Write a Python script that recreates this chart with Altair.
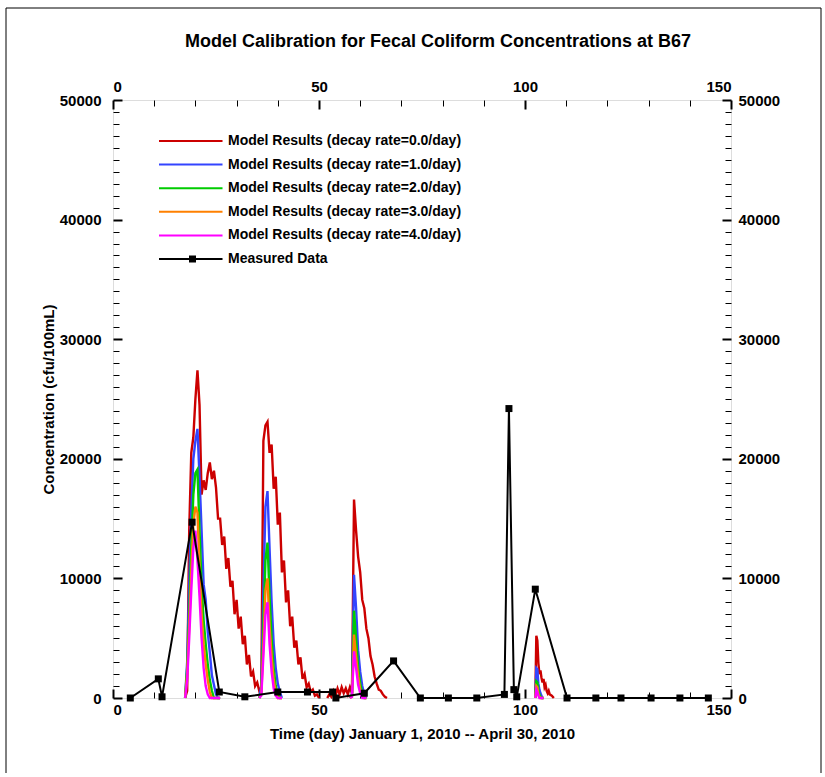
import altair as alt
import pandas as pd

# ---------------- text ----------------
TITLE = "Model Calibration for Fecal Coliform Concentrations at B67"
X_TITLE = "Time (day) January 1, 2010 -- April 30, 2010"
Y_TITLE = "Concentration (cfu/100mL)"

SERIES = [
    "Model Results (decay rate=0.0/day)",
    "Model Results (decay rate=1.0/day)",
    "Model Results (decay rate=2.0/day)",
    "Model Results (decay rate=3.0/day)",
    "Model Results (decay rate=4.0/day)",
    "Measured Data",
]
COLORS = ["#cc0000", "#3344ff", "#00cc00", "#ff8000", "#ff00ff", "#000000"]

X_LABELS = [0, 50, 100, 150]
X_MINOR = [10, 20, 30, 40, 60, 70, 80, 90, 110, 120, 130, 140]
Y_LABELS = [0, 10000, 20000, 30000, 40000, 50000]
Y_MINOR = [v for v in range(0, 50001, 1000) if v % 10000 != 0]

# ---------------- model results: decay 0.0/day (day, value) ----------------
RED_A = [
    (17.5, 0), (18.0, 600), (18.5, 14000), (19.0, 20500), (19.5, 21800),
    (20.0, 25000), (20.5, 27400), (21.0, 24500), (21.5, 17000), (22.0, 18200),
    (22.5, 17400), (23.0, 18800), (23.5, 19700), (24.0, 18300), (24.5, 19000),
    (25.0, 17600), (25.5, 15000), (26.0, 15000), (26.5, 12800), (27.0, 13500),
    (27.5, 10800), (28.0, 11700), (28.5, 9300), (29.0, 9800), (29.5, 7000),
    (30.0, 8200), (30.5, 5800), (31.0, 6800), (31.5, 4500), (32.0, 5200),
    (32.5, 2800), (33.0, 3600), (33.5, 1800), (34.0, 2200), (34.5, 1000),
    (35.0, 1300), (35.5, 600), (36.0, 900), (36.5, 21500), (37.0, 22800),
    (37.5, 23100), (38.0, 20500), (38.5, 21200), (39.0, 17500), (39.5, 18500),
    (40.0, 14500), (40.5, 15500), (41.0, 10500), (41.5, 11500), (42.0, 8000),
    (42.5, 9000), (43.0, 6000), (43.5, 6800), (44.0, 4200), (44.5, 4800),
    (45.0, 2800), (45.5, 3400), (46.0, 1600), (46.5, 2000), (47.0, 900),
    (47.5, 1200), (48.0, 500), (48.5, 700), (49.0, 200), (49.5, 300), (50.0, 0),
]
RED_B = [
    (52.0, 0), (52.5, 300), (53.0, 100), (53.5, 600), (54.0, 200), (54.5, 800),
    (55.0, 300), (55.5, 900), (56.0, 400), (56.5, 800), (57.0, 300), (57.5, 900),
    (58.0, 400), (58.5, 16600), (59.0, 14000), (59.5, 11800), (60.0, 10500),
    (60.5, 8200), (61.0, 7500), (61.5, 5800), (62.0, 5000), (62.5, 3500),
    (63.0, 2800), (63.5, 1800), (64.0, 1200), (64.5, 700), (65.0, 600),
    (65.5, 300), (66.0, 100), (66.5, 0),
]
RED_C = [
    (102.5, 0), (102.75, 5200), (103.0, 4800), (103.25, 2900), (103.5, 2000),
    (103.75, 2300), (104.0, 1700), (104.25, 1300), (104.5, 1600), (104.75, 900),
    (105.0, 1100), (105.25, 600), (105.5, 400), (105.75, 600), (106.0, 300),
    (106.5, 200), (107.0, 0),
]

# ---------------- other decay rates, on shared day grids ----------------
D1 = [17.5, 18.0, 18.5, 19.0, 19.5, 20.0, 20.5, 21.0, 21.5, 22.0, 22.5, 23.0,
      23.5, 24.0, 24.5, 25.0, 25.5, 26.0]
D2 = [35.5, 36.0, 36.5, 37.0, 37.5, 38.0, 38.5, 39.0, 39.5, 40.0, 40.5, 41.0]
D3 = [57.5, 58.0, 58.5, 59.0, 59.5, 60.0, 60.5, 61.0, 61.5]
D4 = [102.5, 102.75, 103.0, 103.25, 103.5, 103.75, 104.0, 104.25, 104.5]

BLUE_1 = [0, 3000, 9500, 15500, 20000, 21500, 22500, 18500, 14000, 9500, 8200, 5500, 3800, 1900, 1100, 300, 0, 0]
GREEN_1 = [0, 2500, 7000, 12500, 17000, 18800, 19100, 14000, 9500, 6500, 4500, 2800, 1500, 600, 0, 0, 0, 0]
ORANGE_1 = [0, 2000, 6000, 10500, 14500, 16000, 15500, 11000, 7000, 4500, 2800, 1500, 500, 0, 0, 0, 0, 0]
MAGENTA_1 = [0, 1500, 5000, 9000, 12500, 14000, 11500, 8500, 5000, 2500, 1000, 300, 0, 0, 0, 0, 0, 0]

BLUE_2 = [0, 1000, 9000, 16000, 17300, 12500, 8000, 4500, 2500, 1200, 500, 0]
GREEN_2 = [0, 500, 6000, 11500, 13000, 8500, 5000, 2500, 1000, 300, 0, 0]
ORANGE_2 = [0, 300, 4500, 9000, 10000, 6000, 3500, 1500, 500, 0, 0, 0]
MAGENTA_2 = [0, 200, 3500, 7000, 8000, 4500, 2200, 800, 200, 0, 0, 0]

BLUE_3 = [0, 300, 10300, 7500, 4000, 2200, 1000, 300, 0]
GREEN_3 = [0, 200, 7300, 5000, 2500, 1200, 400, 0, 0]
ORANGE_3 = [0, 100, 5300, 3500, 1800, 700, 100, 0, 0]
MAGENTA_3 = [0, 100, 3900, 2500, 1100, 400, 0, 0, 0]

BLUE_4 = [0, 2500, 2400, 1200, 700, 400, 200, 0, 0]
GREEN_4 = [0, 1400, 1300, 600, 300, 100, 0, 0, 0]
ORANGE_4 = [0, 1000, 900, 300, 100, 0, 0, 0, 0]
MAGENTA_4 = [0, 700, 500, 200, 0, 0, 0, 0, 0]

# ---------------- measured data ----------------
MEAS_DAY = [4.2, 11.0, 11.9, 19.2, 25.8, 32.0, 40.0, 47.2, 53.3, 54.1, 61.0, 68.1,
            74.6, 81.4, 88.3, 95.0, 96.1, 97.3, 98.0, 102.5, 110.2, 117.2, 123.3,
            130.6, 137.6, 144.5]
MEAS_VAL = [0, 1600, 100, 14700, 500, 100, 500, 500, 500, 0, 400, 3100,
            0, 0, 0, 300, 24200, 700, 100, 9100, 0, 0, 0,
            0, 0, 0]

# ---------------- build tables ----------------
MODEL = {
    SERIES[0]: [RED_A, RED_B, RED_C],
    SERIES[1]: [list(zip(D1, BLUE_1)), list(zip(D2, BLUE_2)), list(zip(D3, BLUE_3)), list(zip(D4, BLUE_4))],
    SERIES[2]: [list(zip(D1, GREEN_1)), list(zip(D2, GREEN_2)), list(zip(D3, GREEN_3)), list(zip(D4, GREEN_4))],
    SERIES[3]: [list(zip(D1, ORANGE_1)), list(zip(D2, ORANGE_2)), list(zip(D3, ORANGE_3)), list(zip(D4, ORANGE_4))],
    SERIES[4]: [list(zip(D1, MAGENTA_1)), list(zip(D2, MAGENTA_2)), list(zip(D3, MAGENTA_3)), list(zip(D4, MAGENTA_4))],
}
rows = []
for name, segs in MODEL.items():
    for k, seg in enumerate(segs):
        for d, v in seg:
            rows.append({"series": name, "seg": k, "day": d, "value": v})
model_df = pd.DataFrame(rows)
meas_df = pd.DataFrame({"day": MEAS_DAY, "value": MEAS_VAL,
                        "series": SERIES[5], "mlabel": "Measured Data", "seg": 0})

# ---------------- layout / style ----------------
W, H = 618, 598
FONT = "Liberation Sans"
LAB = dict(labelFont=FONT, labelFontSize=15, labelFontWeight="bold", labelColor="black")
TIT = dict(titleFont=FONT, titleFontSize=15, titleFontWeight="bold", titleColor="black")

xs = alt.Scale(domain=[0, 150], nice=False, zero=False)
ys = alt.Scale(domain=[0, 50000], nice=False)


def lab_axis(orient, values, pad, title=None, tpad=0):
    kw = dict(orient=orient, values=values, ticks=False, tickSize=0, domain=False,
              grid=False, labelPadding=pad, format="d", **LAB)
    if title:
        return alt.Axis(title=title, titlePadding=tpad, **TIT, **kw)
    return alt.Axis(title=None, **kw)


def tick_axis(orient, offset, values, size, width):
    return alt.Axis(orient=orient, offset=offset, values=values, labels=False,
                    domain=False, grid=False, title=None, tickSize=size,
                    tickWidth=width, tickColor="black")


AX_X = [
    lab_axis("bottom", X_LABELS, 4, X_TITLE, 9),
    lab_axis("top", X_LABELS, 6),
    tick_axis("top", -H, X_LABELS, 9, 2),
    tick_axis("top", -H, X_MINOR, 6, 1),
    tick_axis("bottom", -H, X_LABELS, 9, 2),
    tick_axis("bottom", -H, X_MINOR, 6, 1),
]
AX_Y = [
    lab_axis("left", Y_LABELS, 12, Y_TITLE, 3),
    lab_axis("right", Y_LABELS, 7),
    tick_axis("right", -W, Y_LABELS, 9, 2),
    tick_axis("right", -W, Y_MINOR, 6, 1),
    tick_axis("left", -W, Y_LABELS, 9, 2),
    tick_axis("left", -W, Y_MINOR, 6, 1),
]

LEGEND = alt.Legend(
    orient="none", legendX=46, legendY=33, title=None, padding=0,
    symbolType="M-5,0L5,0", symbolSize=164, symbolStrokeWidth=2,
    symbolOffset=24, labelOffset=30, clipHeight=16, rowPadding=7.6,
    labelFont=FONT, labelFontSize=14, labelFontWeight="bold", labelColor="black",
    labelLimit=400,
)
color = alt.Color("series:N", scale=alt.Scale(domain=SERIES, range=COLORS), legend=LEGEND)

layers = []
# outer frame of the figure
one = pd.DataFrame({"k": [0]})
layers.append(alt.Chart(one).mark_rule(color="black", strokeWidth=1).encode(
    x=alt.value(-107), y=alt.value(-92), y2=alt.value(673)))
layers.append(alt.Chart(one).mark_rule(color="black", strokeWidth=1).encode(
    x=alt.value(-107), x2=alt.value(708), y=alt.value(-92)))
layers.append(alt.Chart(one).mark_rule(color="black", strokeWidth=1).encode(
    x=alt.value(708), y=alt.value(-92), y2=alt.value(673)))

for i in range(5):
    layers.append(
        alt.Chart(model_df).transform_filter(alt.datum.series == SERIES[i])
        .mark_line(strokeWidth=2.4, interpolate="linear")
        .encode(
            x=alt.X("day:Q", scale=xs, axis=AX_X[i]),
            y=alt.Y("value:Q", scale=ys, axis=AX_Y[i]),
            color=color,
            detail="seg:N",
        )
    )

layers.append(
    alt.Chart(meas_df).mark_line(strokeWidth=2).encode(
        x=alt.X("day:Q", scale=xs, axis=AX_X[5]),
        y=alt.Y("value:Q", scale=ys, axis=AX_Y[5]),
        color=color,
    )
)
layers.append(
    alt.Chart(meas_df).mark_point(size=49, opacity=1, filled=True, color="black").encode(
        x=alt.X("day:Q", scale=xs, axis=None),
        y=alt.Y("value:Q", scale=ys, axis=None),
        shape=alt.Shape("mlabel:N", scale=alt.Scale(domain=["Measured Data"], range=["square"]),
                        legend=alt.Legend(orient="none", legendX=74.5, legendY=151, title=None,
                                          padding=0, labelExpr="''", symbolSize=49,
                                          symbolFillColor="black", symbolStrokeColor="black",
                                          symbolStrokeWidth=0, symbolOpacity=1,
                                          clipHeight=16)),
    )
)

chart = (
    alt.layer(*layers)
    .resolve_axis(x="independent", y="independent")
    .resolve_legend(color="shared", shape="independent")
    .properties(
        width=W, height=H,
        padding={"left": 5, "top": 7, "right": 0, "bottom": 0},
        title=alt.TitleParams(TITLE, font=FONT, fontSize=18, fontWeight="bold",
                              color="black", anchor="middle", frame="group",
                              offset=-43, dx=16),
    )
    .configure_view(stroke="black", strokeWidth=2)
    .configure(background="white")
)

chart.save("out.html", embed_options={"renderer": "svg", "actions": False})
